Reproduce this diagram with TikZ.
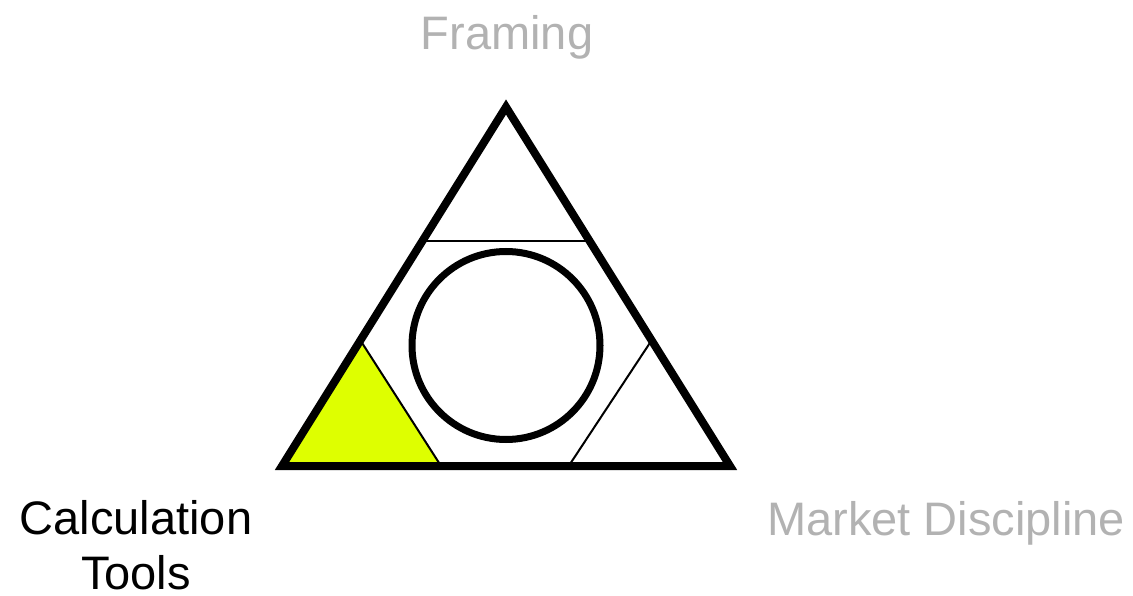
\documentclass[tikz,border=0pt]{standalone}
\usepackage{fontspec}
\setmainfont{Liberation Sans}
\usetikzlibrary{calc}
\definecolor{lime}{RGB}{222,255,0}
\definecolor{softgray}{RGB}{178,178,178}

\begin{document}
\begin{tikzpicture}[x=1pt, y=-1pt, thick edge/.style={line width=8pt, line join=miter}, thin edge/.style={line width=2pt}, label text/.style={font=\fontsize{47}{55}\selectfont, inner sep=0pt, anchor=base, align=center}]
        % Define the fraction cut off at each corner
        \def\cut{0.35}
        \def\topcut{0.373}

        \useasboundingbox (0,0) rectangle (1133,596);

        % Corners of the big triangle
        \coordinate (F) at (506,107);
        \coordinate (C) at (282,466);
        \coordinate (M) at (730,466);

        % Points where the corner triangles are cut off
        \coordinate (F1) at ($(F)!\topcut!(C)$);
        \coordinate (F2) at ($(F)!\topcut!(M)$);
        \coordinate (C1) at ($(C)!\cut!(F)$);
        \coordinate (C2) at ($(C)!0.355!(M)$);
        \coordinate (M1) at ($(M)!\cut!(F)$);
        \coordinate (M2) at ($(M)!0.36!(C)$);

        % Highlighted corner
        \fill[lime] (C) -- (C1) -- (C2) -- cycle;

        \draw[thin edge] (F1) -- (F2);
        \draw[thin edge] (C1) -- (C2);
        \draw[thin edge] (M1) -- (M2);

        \draw[thick edge] (F) -- (C) -- (M) -- cycle;

        % The centre circle
        \coordinate (o) at (506,345.5);
        \draw[line width=7pt] (o) circle[radius=94];

        \node[label text, text=softgray] (framing) at (507,50) {Framing};
        % base of a two-line node is the last line
        \node[label text] (calc) at (136,589) {Calculation\\Tools};
        \node[label text, text=softgray] (market) at (946,535) {Market Discipline};
      \end{tikzpicture}
\end{document}
